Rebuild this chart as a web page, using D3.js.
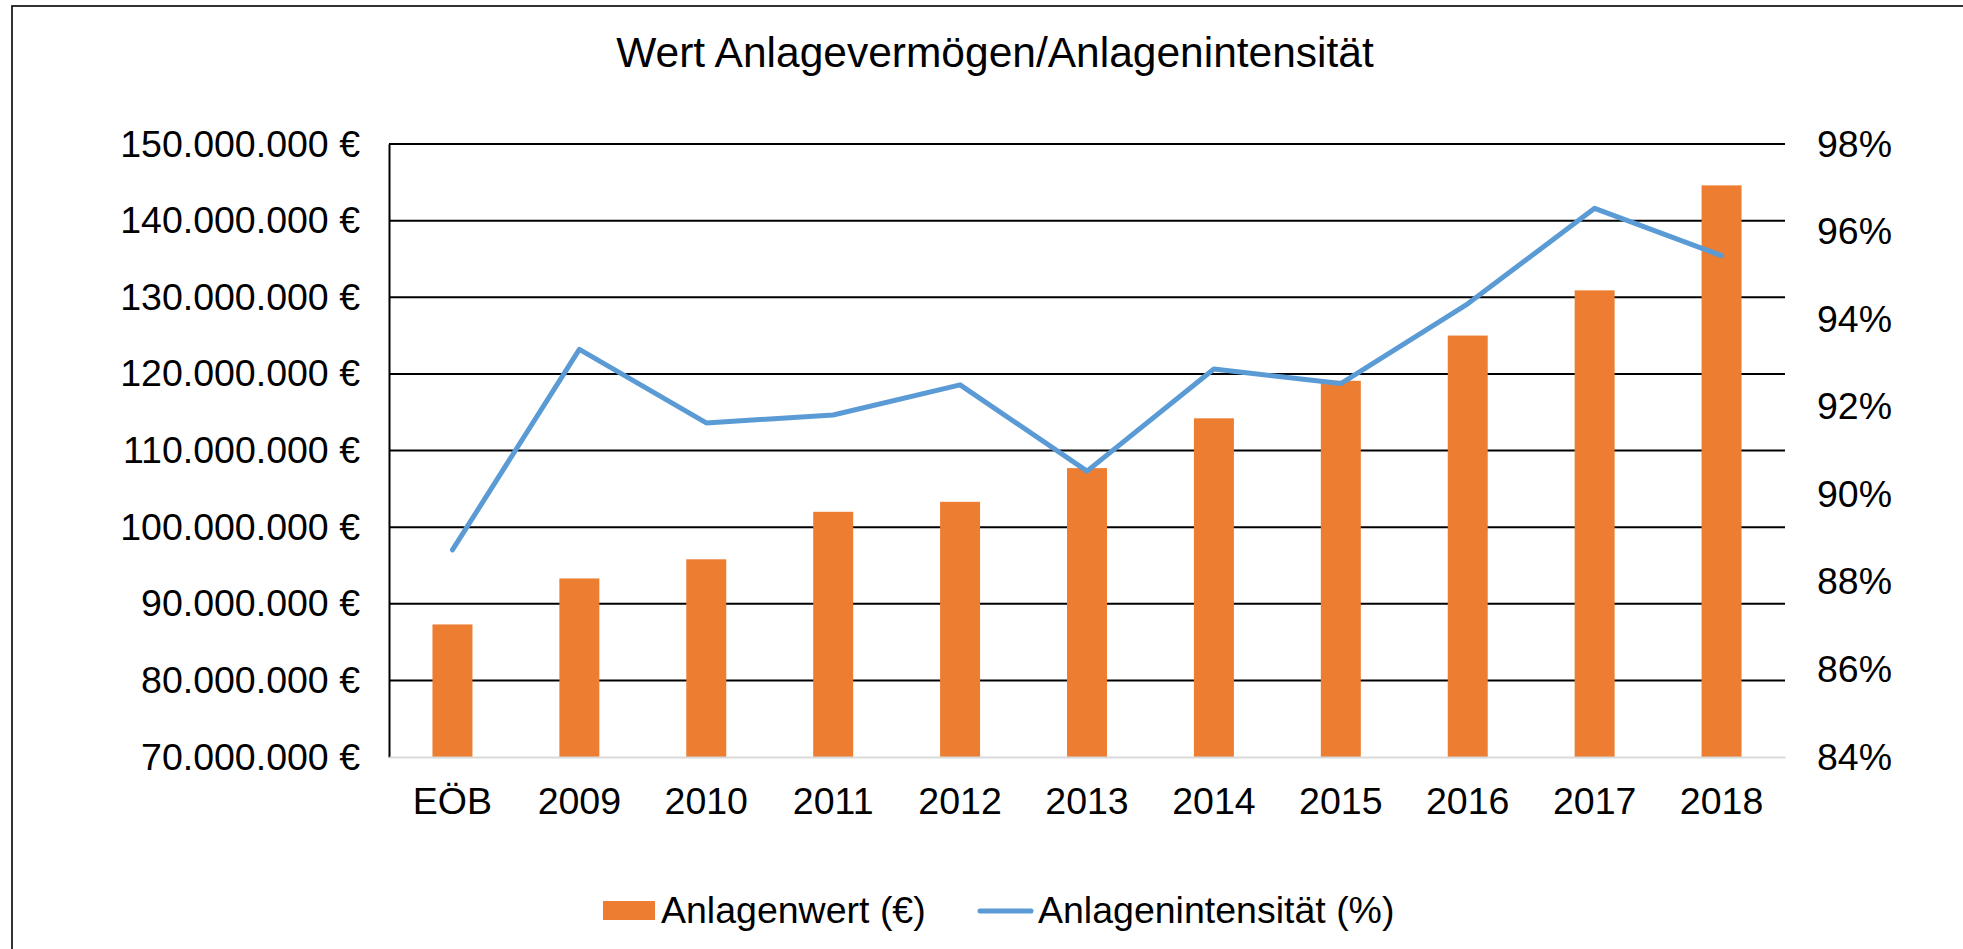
<!DOCTYPE html>
<html>
<head>
<meta charset="utf-8">
<script src="https://cdnjs.cloudflare.com/ajax/libs/d3/7.8.5/d3.min.js"></script>
<style>
  body { margin: 0; background: #fff; }
  svg { display: block; }
  text { font-family: "Liberation Sans", Arial, sans-serif; fill: #000; }
</style>
</head>
<body>
<svg id="chart"></svg>
<script>
const categories = ['EÖB', '2009', '2010', '2011', '2012', '2013', '2014', '2015', '2016', '2017', '2018'];
const anlagenwert = [87.3e6, 93.3e6, 95.8e6, 102.0e6, 103.3e6, 107.7e6, 114.2e6, 119.1e6, 125.0e6, 130.9e6, 144.6e6];
const intensitaet = [88.73, 93.31, 91.63, 91.81, 92.50, 90.53, 92.86, 92.53, 94.35, 96.53, 95.45];
const leftTicks = [70e6, 80e6, 90e6, 100e6, 110e6, 120e6, 130e6, 140e6, 150e6];
const rightTicks = [84, 86, 88, 90, 92, 94, 96, 98];
const seriesNames = ['Anlagenwert (€)', 'Anlagenintensität (%)'];
const title = 'Wert Anlagevermögen/Anlagenintensität';

const W = 1963, H = 949;
const plot = { left: 389, right: 1785, top: 144, bottom: 757 };
const fontSize = 37.5;

const svg = d3.select('#chart')
    .attr('width', W)
    .attr('height', H);

// outer chart frame (runs off the right/bottom edge like the source)
svg.append('rect')
    .attr('x', 12).attr('y', 6)
    .attr('width', W + 20).attr('height', H + 20)
    .attr('fill', 'none')
    .attr('stroke', '#000')
    .attr('stroke-width', 1.6);

const x = d3.scaleBand()
    .domain(categories)
    .range([plot.left, plot.right])
    .paddingInner(0.685)
    .paddingOuter(0.3425);

const yL = d3.scaleLinear().domain([70e6, 150e6]).range([plot.bottom, plot.top]);
const yR = d3.scaleLinear().domain([84, 98]).range([plot.bottom, plot.top]);

const de = d3.formatLocale({ decimal: ',', thousands: '.', grouping: [3], currency: ['', ' €'] });
const fmtEuro = de.format('$,.0f');

// gridlines
svg.append('g')
    .selectAll('line')
    .data(leftTicks.slice(1))
    .join('line')
        .attr('x1', plot.left).attr('x2', plot.right)
        .attr('y1', d => yL(d)).attr('y2', d => yL(d))
        .attr('stroke', '#000')
        .attr('stroke-width', 2);

// left axis
const axisL = svg.append('g')
    .attr('transform', `translate(${plot.left},0)`)
    .call(d3.axisLeft(yL).tickValues(leftTicks).tickFormat(fmtEuro).tickSize(0).tickPadding(29));
axisL.select('.domain').attr('stroke', '#000').attr('stroke-width', 2);
axisL.selectAll('text')
    .attr('font-size', fontSize)
    .attr('font-family', '"Liberation Sans", Arial, sans-serif')
    .attr('fill', '#000');

// right axis (labels only)
const axisR = svg.append('g')
    .attr('transform', `translate(${plot.right},0)`)
    .call(d3.axisRight(yR).tickValues(rightTicks).tickFormat(d => d + '%').tickSize(0).tickPadding(32));
axisR.select('.domain').remove();
axisR.selectAll('text')
    .attr('font-size', fontSize)
    .attr('font-family', '"Liberation Sans", Arial, sans-serif')
    .attr('fill', '#000');

// bars
svg.append('g')
    .selectAll('rect')
    .data(anlagenwert)
    .join('rect')
        .attr('x', (d, i) => x(categories[i]))
        .attr('y', d => yL(d))
        .attr('width', x.bandwidth())
        .attr('height', d => yL(70e6) - yL(d))
        .attr('fill', '#ED7D31');

// bottom axis
const axisB = svg.append('g')
    .attr('transform', `translate(0,${plot.bottom})`)
    .call(d3.axisBottom(x).tickSize(0).tickPadding(30).tickSizeOuter(0));
axisB.select('.domain').attr('stroke', '#D9D9D9').attr('stroke-width', 2);
axisB.selectAll('text')
    .attr('font-size', fontSize)
    .attr('font-family', '"Liberation Sans", Arial, sans-serif')
    .attr('fill', '#000');

// line
const line = d3.line()
    .x((d, i) => x(categories[i]) + x.bandwidth() / 2)
    .y(d => yR(d));

svg.append('path')
    .datum(intensitaet)
    .attr('d', line)
    .attr('fill', 'none')
    .attr('stroke', '#5B9BD5')
    .attr('stroke-width', 5)
    .attr('stroke-linejoin', 'round')
    .attr('stroke-linecap', 'round');

// title
svg.append('text')
    .attr('x', 995)
    .attr('y', 67)
    .attr('text-anchor', 'middle')
    .attr('font-size', 42.5)
    .text(title);

// legend
const legend = svg.append('g');
legend.append('rect')
    .attr('x', 603).attr('y', 901)
    .attr('width', 52).attr('height', 19)
    .attr('fill', '#ED7D31');
legend.append('text')
    .attr('x', 661).attr('y', 923)
    .attr('font-size', fontSize)
    .text(seriesNames[0]);
legend.append('line')
    .attr('x1', 980).attr('x2', 1031)
    .attr('y1', 911).attr('y2', 911)
    .attr('stroke', '#5B9BD5')
    .attr('stroke-width', 5)
    .attr('stroke-linecap', 'round');
legend.append('text')
    .attr('x', 1038).attr('y', 923)
    .attr('font-size', fontSize)
    .text(seriesNames[1]);
</script>
</body>
</html>
